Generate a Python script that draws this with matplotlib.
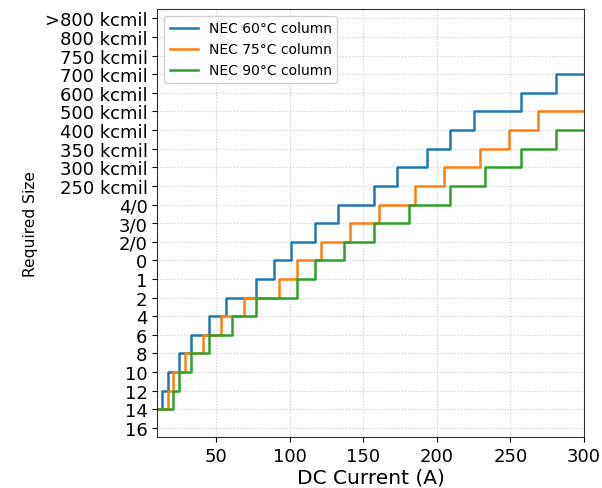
import matplotlib
matplotlib.use("Agg")
import matplotlib.pyplot as plt

# Conductor sizes, smallest to largest (y-axis categories)
sizes = ["16", "14", "12", "10", "8", "6", "4", "2", "1", "0", "2/0", "3/0", "4/0",
         "250 kcmil", "300 kcmil", "350 kcmil", "400 kcmil", "500 kcmil",
         "600 kcmil", "700 kcmil", "750 kcmil", "800 kcmil", ">800 kcmil"]

# Current (A) at which the required size steps up to the next size
steps_60 = [13, 17, 25, 33, 45, 57, 77, 89, 101, 117, 133, 157, 173, 193, 209, 225, 257, 281]
sizes_60 = ["14", "12", "10", "8", "6", "4", "2", "1", "0", "2/0", "3/0", "4/0",
            "250 kcmil", "300 kcmil", "350 kcmil", "400 kcmil", "500 kcmil",
            "600 kcmil", "700 kcmil"]

steps_75 = [17, 21, 29, 41, 53, 69, 93, 105, 121, 141, 161, 185, 205, 229, 249, 269]
sizes_75 = ["14", "12", "10", "8", "6", "4", "2", "1", "0", "2/0", "3/0", "4/0",
            "250 kcmil", "300 kcmil", "350 kcmil", "400 kcmil", "500 kcmil"]

steps_90 = [21, 25, 33, 45, 61, 77, 105, 117, 137, 157, 181, 209, 233, 257, 281]
sizes_90 = ["14", "12", "10", "8", "6", "4", "2", "1", "0", "2/0", "3/0", "4/0",
            "250 kcmil", "300 kcmil", "350 kcmil", "400 kcmil"]

x_min, x_max = 10, 300
series = [
    ("NEC 60°C column", steps_60, sizes_60, "#1f77b4"),
    ("NEC 75°C column", steps_75, sizes_75, "#ff7f0e"),
    ("NEC 90°C column", steps_90, sizes_90, "#2ca02c"),
]

fig = plt.figure(figsize=(6.02, 4.89), dpi=100)
ax = fig.add_axes([0.2613, 0.1037, 0.7088, 0.8759])

for label, steps, req, color in series:
    xs = [x_min] + steps + [x_max]
    ys = [sizes.index(s) for s in req]
    ys = ys + [ys[-1]]
    ax.plot(xs, ys, drawstyle="steps-post", color=color, lw=1.8, label=label)

ax.set_xlim(x_min, x_max)
ax.set_ylim(-0.5, len(sizes) - 0.5)
ax.set_yticks(range(len(sizes)))
ax.set_yticklabels(sizes, fontsize=13)
ax.set_xticks([50, 100, 150, 200, 250, 300])
ax.tick_params(axis="x", labelsize=13)
ax.grid(True, linestyle=":", color="#cccccc", linewidth=0.8)
ax.set_axisbelow(True)
for sp in ax.spines.values():
    sp.set_color("#333333")

ax.set_xlabel("DC Current (A)", fontsize=14.5, labelpad=2)
ax.set_ylabel("Required Size", fontsize=11.2, labelpad=5)
ax.legend(loc="upper left", fontsize=10, framealpha=0.9)

fig.savefig("out.png", dpi=100)
